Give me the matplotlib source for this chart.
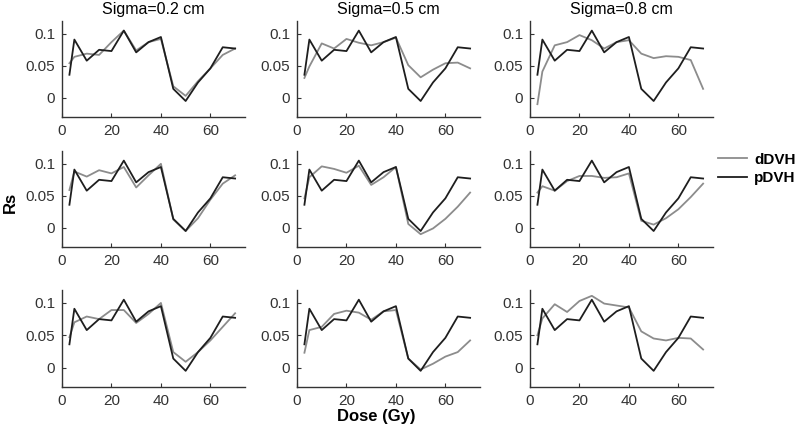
import matplotlib
matplotlib.use('Agg')
import matplotlib.pyplot as plt

plt.rcParams['font.family'] = ['Liberation Sans', 'DejaVu Sans']

# dane
dose = [3, 5, 10, 15, 20, 25, 30, 35, 40, 45, 50, 55, 60, 65, 70]
pdvh = [0.036, 0.091, 0.058, 0.075, 0.073, 0.105, 0.071, 0.087, 0.095,
        0.014, -0.005, 0.024, 0.046, 0.079, 0.077]

sigma_titles = ['Sigma=0.2 cm', 'Sigma=0.5 cm', 'Sigma=0.8 cm']

# dDVH, wiersz po wierszu (lewo -> prawo)
ddvh_r1c1 = [0.054, 0.064, 0.069, 0.067, 0.087, 0.105, 0.074, 0.087, 0.092,
             0.018, 0.003, 0.026, 0.046, 0.067, 0.077]
ddvh_r1c2 = [0.031, 0.049, 0.085, 0.077, 0.092, 0.086, 0.082, 0.087, 0.094,
             0.051, 0.032, 0.044, 0.054, 0.055, 0.046]
ddvh_r1c3 = [-0.010, 0.041, 0.082, 0.087, 0.098, 0.090, 0.077, 0.087, 0.090,
             0.069, 0.062, 0.065, 0.064, 0.059, 0.014]
ddvh_r2c1 = [0.059, 0.088, 0.080, 0.090, 0.085, 0.095, 0.063, 0.082, 0.100,
             0.013, -0.005, 0.015, 0.044, 0.069, 0.082]
ddvh_r2c2 = [0.046, 0.079, 0.096, 0.092, 0.086, 0.097, 0.067, 0.079, 0.095,
             0.006, -0.010, -0.001, 0.014, 0.033, 0.055]
ddvh_r2c3 = [0.055, 0.065, 0.058, 0.073, 0.081, 0.081, 0.078, 0.079, 0.085,
             0.011, 0.005, 0.015, 0.029, 0.048, 0.069]
ddvh_r3c1 = [0.047, 0.070, 0.079, 0.075, 0.089, 0.089, 0.069, 0.083, 0.100,
             0.024, 0.009, 0.024, 0.042, 0.063, 0.084]
ddvh_r3c2 = [0.023, 0.058, 0.063, 0.083, 0.088, 0.085, 0.074, 0.087, 0.089,
             0.014, -0.003, 0.006, 0.017, 0.024, 0.042]
ddvh_r3c3 = [0.050, 0.076, 0.098, 0.086, 0.103, 0.111, 0.099, 0.096, 0.093,
             0.056, 0.045, 0.042, 0.046, 0.045, 0.028]

ddvh = [[ddvh_r1c1, ddvh_r1c2, ddvh_r1c3],
        [ddvh_r2c1, ddvh_r2c2, ddvh_r2c3],
        [ddvh_r3c1, ddvh_r3c2, ddvh_r3c3]]

W, H = 800, 436
fig = plt.figure(figsize=(W / 100, H / 100), dpi=100)

# pozycje osi w pikselach
col_x = [62, 297, 530]
ax_w = 183
row_y = [(21, 117), (151, 247), (290, 387)]

gray = '#8c8c8c'
black = '#1e1e1e'

for r in range(3):
    for c in range(3):
        top, bot = row_y[r]
        ax = fig.add_axes([col_x[c] / W, 1 - bot / H, ax_w / W, (bot - top) / H])
        l1, = ax.plot(dose, ddvh[r][c], color=gray, lw=1.3)
        l2, = ax.plot(dose, pdvh, color=black, lw=1.3)
        ax.set_xlim(0, 74)
        ax.set_ylim(-0.03, 0.12)
        ax.set_xticks([0, 20, 40, 60])
        ax.set_yticks([0, 0.05, 0.1])
        ax.set_yticklabels(['0', '0.05', '0.1'])
        ax.spines['top'].set_visible(False)
        ax.spines['right'].set_visible(False)
        for s in ['left', 'bottom']:
            ax.spines[s].set_color('#333333')
            ax.spines[s].set_linewidth(1.0)
        ax.tick_params(direction='in', length=3, labelsize=11,
                       colors='#333333', pad=5)
        if r == 0:
            ax.set_title(sigma_titles[c], fontsize=11.5, pad=5)

fig.text(10 / W, 1 - 202 / H, 'Rs', rotation=90, fontsize=12,
         fontweight='bold', ha='center', va='center')
fig.text(376 / W, 1 - 416 / H, 'Dose (Gy)', fontsize=12,
         fontweight='bold', ha='center', va='center')

fig.legend([l1, l2], ['dDVH', 'pDVH'], loc='center left',
           bbox_to_anchor=(718 / W, 1 - 169 / H), frameon=False,
           prop={'weight': 'bold', 'size': 11}, handlelength=1.9,
           handletextpad=0.45, labelspacing=0.3, borderaxespad=0,
           borderpad=0)

fig.savefig('out.png', dpi=100)
